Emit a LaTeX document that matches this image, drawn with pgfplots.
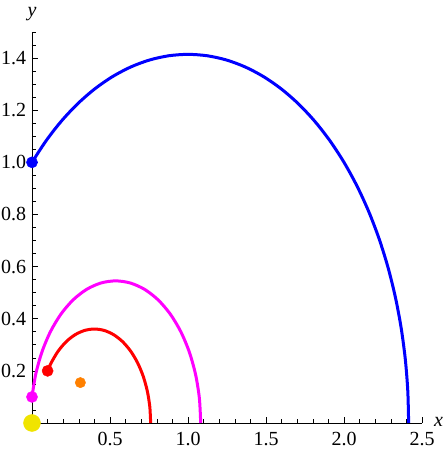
\documentclass[border=0pt]{standalone}
\usepackage{fontspec}
\setmainfont{Liberation Serif}
\usepackage{pgfplots}
\pgfplotsset{compat=1.18}
\definecolor{myyellow}{RGB}{240,228,0}
\definecolor{myorange}{RGB}{255,128,0}
\definecolor{mymagenta}{RGB}{255,0,255}
\definecolor{myblue}{RGB}{0,0,255}
\definecolor{myred}{RGB}{255,0,0}
\begin{document}
\fontsize{20}{22}\selectfont
\begin{tikzpicture}[font=\fontsize{20}{22}\selectfont]
\useasboundingbox (-32pt,-31pt) rectangle (415pt,423pt);
\begin{axis}[
  at={(0pt,0pt)}, anchor=south west,
  scale only axis, width=390pt, height=391pt,
  xmin=0, xmax=2.5, ymin=0, ymax=1.5,
  clip=false,
  axis lines=left,
  axis line style={-, line width=0.7pt, black},
  tick align=inside,
  major tick length=5.5pt, minor tick length=3.5pt,
  every tick/.style={black, line width=0.6pt},
  xtick={0.5,1,1.5,2,2.5},
  xticklabels={0.5,1.0,1.5,2.0,2.5},
  minor xtick={0.1,0.2,0.3,0.4,0.6,0.7,0.8,0.9,1.1,1.2,1.3,1.4,1.6,1.7,1.8,1.9,2.1,2.2,2.3,2.4},
  ytick={0.2,0.4,0.6,0.8,1.0,1.2,1.4},
  yticklabels={0.2,0.4,0.6,0.8,1.0,1.2,1.4},
  minor ytick={0.05,0.1,0.15,0.25,0.3,0.35,0.45,0.5,0.55,0.65,0.7,0.75,0.85,0.9,0.95,1.05,1.1,1.15,1.25,1.3,1.35,1.45,1.5},
  /pgf/number format/assume math mode=true,
  tick label style={font=\fontsize{20}{22}\selectfont},
  xticklabel style={yshift=-2pt},
  yticklabel style={xshift=1pt},
  xlabel={\textit{x}}, ylabel={\textit{y}},
  every axis x label/.style={at={(rel axis cs:1,0)}, anchor=base west, xshift=12pt, yshift=-4pt, inner sep=0pt, font=\fontsize{20}{22}\selectfont},
  every axis y label/.style={at={(rel axis cs:0,1)}, anchor=base, yshift=15pt, inner sep=0pt, font=\fontsize{20}{22}\selectfont},
]
% blue trajectory
\addplot[myblue, line width=3pt, smooth] coordinates {
(0,1) (0.0910,1.08335) (0.1888,1.15846) (0.29289,1.22474) (0.40233,1.28172)
(0.51631,1.32893) (0.63397,1.36603) (0.75442,1.39273) (0.87674,1.40883) (1,1.41421)
(1.12326,1.40883) (1.24558,1.39273) (1.36603,1.36603) (1.48369,1.32893) (1.59767,1.28172)
(1.70711,1.22474) (1.81116,1.15846) (1.90905,1.08335) (2.0,1.0) (2.08335,0.90905)
(2.15846,0.81116) (2.22474,0.70711) (2.28172,0.59767) (2.32893,0.48369) (2.36603,0.36603)
(2.39273,0.24558) (2.40883,0.12326) (2.41421,0)
};
% magenta trajectory
\addplot[mymagenta, line width=3pt, smooth] coordinates {
(0,0.1) (0.02363,0.18649) (0.06380,0.27263) (0.11831,0.35048) (0.18552,0.41769)
(0.26338,0.47220) (0.34951,0.51237) (0.44132,0.53697) (0.536,0.54525) (0.63068,0.53697)
(0.72249,0.51237) (0.80863,0.47220) (0.88648,0.41769) (0.95369,0.35048) (1.00820,0.27263)
(1.04837,0.18649) (1.07297,0.09468) (1.08125,0)
};
% red trajectory
\addplot[myred, line width=3pt, smooth] coordinates {
(0.1,0.2) (0.12380,0.23176) (0.16824,0.27620) (0.21972,0.31226) (0.27668,0.33881)
(0.33739,0.35508) (0.4,0.36056) (0.46261,0.35508) (0.52332,0.33881) (0.58028,0.31226)
(0.63176,0.27620) (0.67620,0.23176) (0.71226,0.18028) (0.73881,0.12332) (0.75508,0.06261)
(0.76056,0)
};
% points
\addplot[only marks, mark=*, mark size=5.6pt, color=myblue] coordinates {(0,1)};
\addplot[only marks, mark=*, mark size=5.6pt, color=mymagenta] coordinates {(0,0.1)};
\addplot[only marks, mark=*, mark size=5.6pt, color=myred] coordinates {(0.1,0.2)};
\addplot[only marks, mark=*, mark size=5.2pt, color=myorange] coordinates {(0.31,0.155)};
\addplot[only marks, mark=*, mark size=8.5pt, color=myyellow] coordinates {(0,0)};
\end{axis}
\end{tikzpicture}
\end{document}
